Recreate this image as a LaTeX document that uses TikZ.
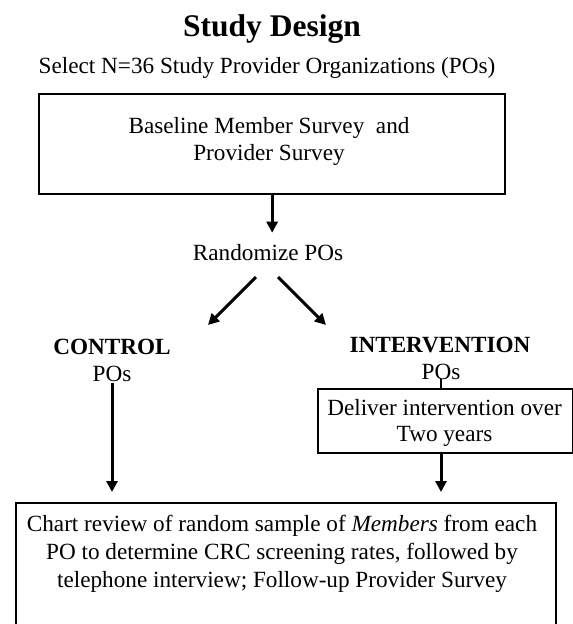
\documentclass[tikz,border=0pt]{standalone}
\usepackage{fontspec}
\setmainfont{Liberation Serif}
\usetikzlibrary{arrows.meta}
\begin{document}
\begin{tikzpicture}[x=1pt,y=-1pt,
  body/.style={font=\fontsize{23.2}{27.5}\selectfont, inner sep=0pt, anchor=base},
  headb/.style={font=\fontsize{23.2}{27.5}\selectfont\bfseries, inner sep=0pt, anchor=base},
  boxframe/.style={draw, line width=2.3pt, inner sep=0pt, anchor=north west},
  arr/.style={line width=3pt, -{Triangle[length=11pt,width=11pt]}},
  ]
\useasboundingbox (0,0) rectangle (573,624);
\clip (0,0) rectangle (573,624);
% title
\node[font=\fontsize{31.5}{36}\selectfont\bfseries, inner sep=0pt, anchor=base] (title) at (272,36) {Study Design};
\node[body] (select) at (267,73) {Select N=36 Study Provider Organizations (POs)};
% baseline box
\node[boxframe, minimum width=466pt, minimum height=100pt] (baseline) at (38,93) {};
\node[body] (bt1) at (269,133) {Baseline Member Survey\ \ and};
\node[body] (bt2) at (269,160) {Provider Survey};
% randomize
\node[body] (rand) at (268,260) {Randomize POs};
\coordinate (rl1) at (256,277);
\coordinate (rl2) at (208,325);
\coordinate (rr1) at (278,277);
\coordinate (rr2) at (326,325);
% arms
\node[headb] (control) at (112,354) {CONTROL};
\node[body] (cpos) at (112,381) {POs};
\node[headb] (interv) at (440,352) {INTERVENTION};
\node[body] (ipos) at (441,379) {POs};
% deliver box
\node[boxframe, minimum width=255pt, minimum height=64pt] (deliv) at (317,388) {};
\node[body] (dt1) at (444.5,415) {Deliver intervention over};
\node[body] (dt2) at (444.5,441) {Two years};
% chart box
\node[boxframe, minimum width=540pt, minimum height=160pt] (chart) at (15,502) {};
\node[body] (ct1) at (282,531) {Chart review of random sample of \textit{Members} from each};
\node[body] (ct2) at (282,559) {PO to determine CRC screening rates, followed by};
\node[body] (ct3) at (282,587) {telephone interview; Follow-up Provider Survey};
% connectors
\draw[arr, shorten >=11pt] (baseline.south) -- (baseline.south |- rand.north);
\draw[arr] (rl1) -- (rl2);
\draw[arr] (rr1) -- (rr2);
\draw[line width=1.6pt] (ipos.south) -- (ipos.south |- deliv.north);
\draw[arr, shorten >=10pt] ([yshift=-2pt]cpos.south) -- (cpos.south |- chart.north);
\draw[arr, shorten >=10pt] (deliv.south -| ipos) -- (ipos |- chart.north);
\end{tikzpicture}
\end{document}
